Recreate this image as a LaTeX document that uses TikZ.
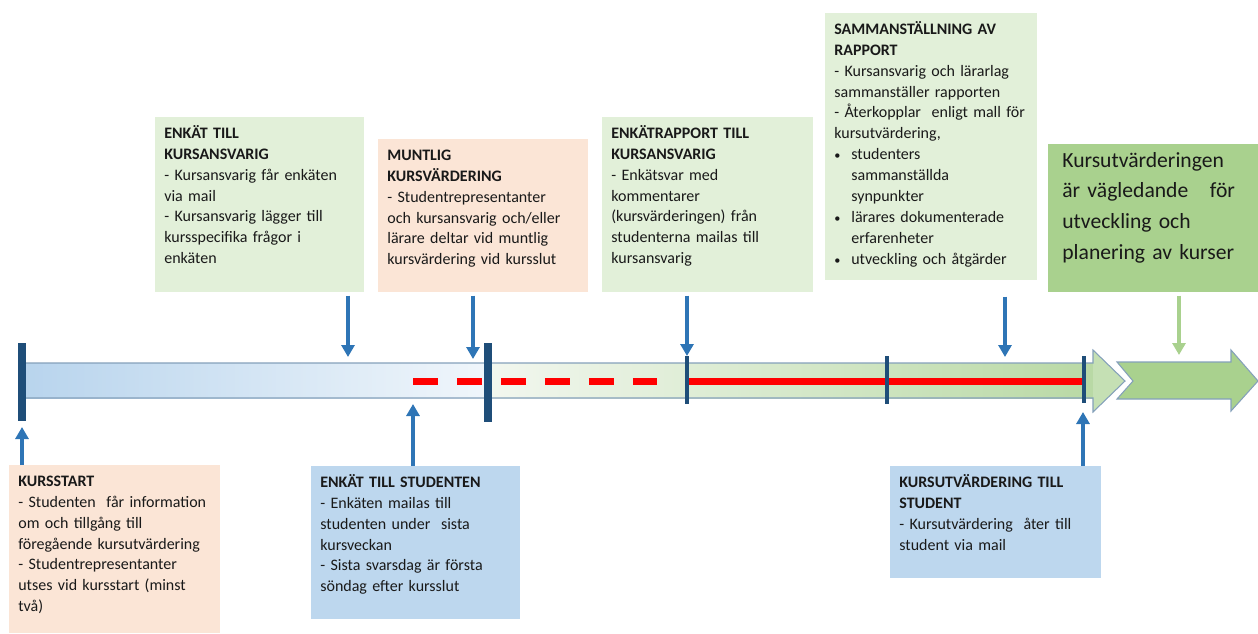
\documentclass[tikz,border=0pt]{standalone}
\usepackage{fontspec}
\setmainfont{Carlito}
\usepackage{tikz}
\usetikzlibrary{arrows.meta, positioning}

\definecolor{peach}{RGB}{251,229,214}
\definecolor{paleblue}{RGB}{189,215,238}
\definecolor{palegreen}{RGB}{226,240,217}
\definecolor{leafgreen}{RGB}{169,209,142}
\definecolor{arrowblue}{RGB}{46,117,182}
\definecolor{navy}{RGB}{31,78,121}
\definecolor{barline}{RGB}{132,160,186}
\definecolor{headgreen}{RGB}{197,224,180}
\definecolor{barblueA}{RGB}{184,212,237}
\definecolor{barblueB}{RGB}{240,246,251}
\definecolor{bargreenA}{RGB}{242,247,239}
\definecolor{bargreenB}{RGB}{185,217,165}

\newcommand{\dotitem}{\makebox[0.34cm][l]{\fontsize{7}{7}\selectfont\textbullet}}

\begin{document}
\begin{tikzpicture}[x=0.02cm, y=-0.02cm,
		card/.style={anchor=north west, align=left, inner xsep=0.18cm, inner ysep=0.1cm, text height=0.32cm, font=\fontsize{9.1}{11.9}\selectfont, text=black!90},
		uparr/.style={draw=arrowblue, line width=0.07cm, -{Triangle[length=0.24cm, width=0.26cm]}},
		downarr/.style={uparr, shorten <=0.06cm}]
				\useasboundingbox (0,0) rectangle (1258,633);

				\shade[left color=barblueA, right color=barblueB] (22,363) rectangle (488,398);
				\shade[left color=bargreenA, right color=bargreenB] (488,363) rectangle (1093,398);
				\fill[headgreen] (1093,363) -- (1093,350) -- (1125,381) -- (1093,412) -- (1093,398) -- cycle;
				\draw[barline, line width=0.6pt] (22,363) -- (1093,363) -- (1093,350) -- (1125,381) -- (1093,412) -- (1093,398) -- (22,398);
				\draw[barline, line width=0.6pt, fill=leafgreen] (1117,362) -- (1231,362) -- (1231,350) -- (1258,381) -- (1231,411) -- (1231,399) -- (1117,399) -- (1133,381) -- cycle;

				\draw[red, line width=0.14cm, dash pattern=on 0.5cm off 0.38cm] (413,381) -- (657,381);
				\draw[red, line width=0.14cm] (688,381) -- (1084,381);

				\draw[navy, line width=0.16cm] (22,343) -- (22,421);
				\draw[navy, line width=0.16cm] (488,343) -- (488,422);
				\draw[navy, line width=0.08cm] (687,356) -- (687,404);
				\draw[navy, line width=0.08cm] (887,356) -- (887,404);
				\draw[navy, line width=0.08cm] (1084,356) -- (1084,403);

				\node (kursstart) [card, fill=peach, text width=3.86cm, text depth=2.84cm] at (9,465) {\textbf{KURSSTART}\\- Studenten~ får information\\om och tillgång till\\föregående kursutvärdering\\- Studentrepresentanter\\utses vid kursstart (minst\\två)};
				\node (enkstud) [card, fill=paleblue, text width=3.82cm, text depth=2.54cm] at (311,466) {\textbf{ENKÄT TILL STUDENTEN}\\- Enkäten mailas till\\studenten under~ sista\\kursveckan\\- Sista svarsdag är första\\söndag efter kursslut};
				\node (enkkurs) [card, fill=palegreen, text width=3.82cm, text depth=2.98cm] at (155,117) {\textbf{ENKÄT TILL}\\\textbf{KURSANSVARIG}\\- Kursansvarig får enkäten\\via mail\\- Kursansvarig lägger till\\kursspecifika frågor i\\enkäten};
				\node (muntlig) [card, fill=peach, text width=3.84cm, text depth=2.54cm] at (378,139) {\textbf{MUNTLIG}\\\textbf{KURSVÄRDERING}\\- Studentrepresentanter\\och kursansvarig och/eller\\lärare deltar vid muntlig\\kursvärdering vid kursslut};
				\node (rapport) [card, fill=palegreen, text width=3.86cm, text depth=2.98cm] at (602,117) {\textbf{ENKÄTRAPPORT TILL}\\\textbf{KURSANSVARIG}\\- Enkätsvar med\\kommentarer\\(kursvärderingen) från\\studenterna mailas till\\kursansvarig};
				\node (samman) [card, fill=palegreen, text width=3.88cm, text depth=4.82cm] at (825,13) {\textbf{SAMMANSTÄLLNING AV}\\\textbf{RAPPORT}\\- Kursansvarig och lärarlag\\sammanställer rapporten\\- Återkopplar~ enligt mall för\\kursutvärdering,\\\dotitem studenters\\\hspace*{0.34cm}sammanställda\\\hspace*{0.34cm}synpunkter\\\dotitem lärares dokumenterade\\\hspace*{0.34cm}erfarenheter\\\dotitem utveckling och åtgärder};
				\node (vagledande) [card, fill=leafgreen, inner xsep=0.28cm, text height=0.36cm, text width=3.64cm, text depth=2.4cm, font=\fontsize{12.3}{17.4}\selectfont] at (1048,144) {Kursutvärderingen\\är vägledande~~ för\\utveckling och\\planering av kurser};
				\node (kutill) [card, fill=paleblue, text width=3.86cm, text depth=1.72cm] at (890,466) {\textbf{KURSUTVÄRDERING TILL}\\\textbf{STUDENT}\\- Kursutvärdering~ åter till\\student via mail};

				\coordinate (tipStart) at (22,427);
				\coordinate (tipStud) at (413,404);
				\coordinate (tipBack) at (1083,412);
				\coordinate (tipKurs) at (348,357);
				\coordinate (tipMunt) at (473,359);
				\coordinate (tipRapp) at (687,356);
				\coordinate (tipSamm) at (1005,357);
				\coordinate (tipVag) at (1179,355);

				\draw[uparr] (kursstart.north -| tipStart) -- (tipStart);
				\draw[uparr] (enkstud.north -| tipStud) -- (tipStud);
				\draw[uparr] (kutill.north -| tipBack) -- (tipBack);
				\draw[downarr] (enkkurs.south -| tipKurs) -- (tipKurs);
				\draw[downarr] (muntlig.south -| tipMunt) -- (tipMunt);
				\draw[downarr] (rapport.south -| tipRapp) -- (tipRapp);
				\draw[downarr, shorten <=0.32cm] (samman.south -| tipSamm) -- (tipSamm);
				\draw[downarr, draw=leafgreen] (vagledande.south -| tipVag) -- (tipVag);
			\end{tikzpicture}
\end{document}
